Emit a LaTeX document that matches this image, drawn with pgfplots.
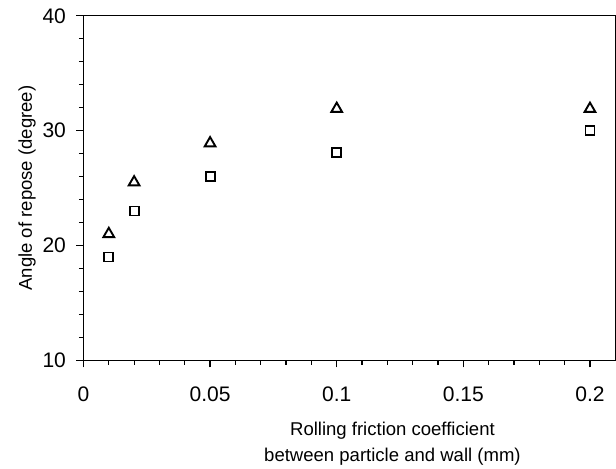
\documentclass[border=0pt]{standalone}
\usepackage{fontspec}
\setmainfont{Liberation Sans}
\usepackage{pgfplots}
\pgfplotsset{compat=1.18}
\begin{document}
\begin{tikzpicture}
\begin{axis}[
  scale only axis,
  width=531pt, height=344pt,
  xmin=0, xmax=0.21, ymin=10, ymax=40,
  xtick={0,0.05,0.1,0.15,0.2},
  ytick={10,20,30,40},
  minor x tick num=4, minor y tick num=4,
  tick align=outside, tickpos=left,
  major tick length=7pt, minor tick length=4.5pt,
  axis line style={line width=1.4pt},
  every tick/.style={black, line width=1.2pt},
  /pgf/number format/assume math mode=true,
  xticklabel style={/pgf/number format/fixed, /pgf/number format/precision=2, yshift=-16pt},
  yticklabel style={xshift=-7pt},
  tick label style={font=\fontsize{21}{23}\selectfont},
  label style={font=\fontsize{18.5}{26}\selectfont},
  xlabel={Rolling friction coefficient\\between particle and wall (mm)},
  xlabel style={align=center, xshift=43pt, yshift=-13pt},
  ylabel={Angle of repose (degree)},
]
% triangles
\addplot[only marks, mark=triangle, mark size=6.2pt, line width=1.9pt, black] coordinates {
  (0.01,21.0) (0.02,25.5) (0.05,28.9) (0.1,31.9) (0.2,31.9)
};
% squares
\addplot[only marks, mark=square, mark size=4.5pt, line width=1.9pt, black] coordinates {
  (0.01,19.0) (0.02,23.0) (0.05,26.0) (0.1,28.1) (0.2,30.0)
};
\end{axis}
\path ([xshift=-15pt,yshift=5pt]current bounding box.north west) -- (current bounding box.south east);
\end{tikzpicture}
\end{document}
